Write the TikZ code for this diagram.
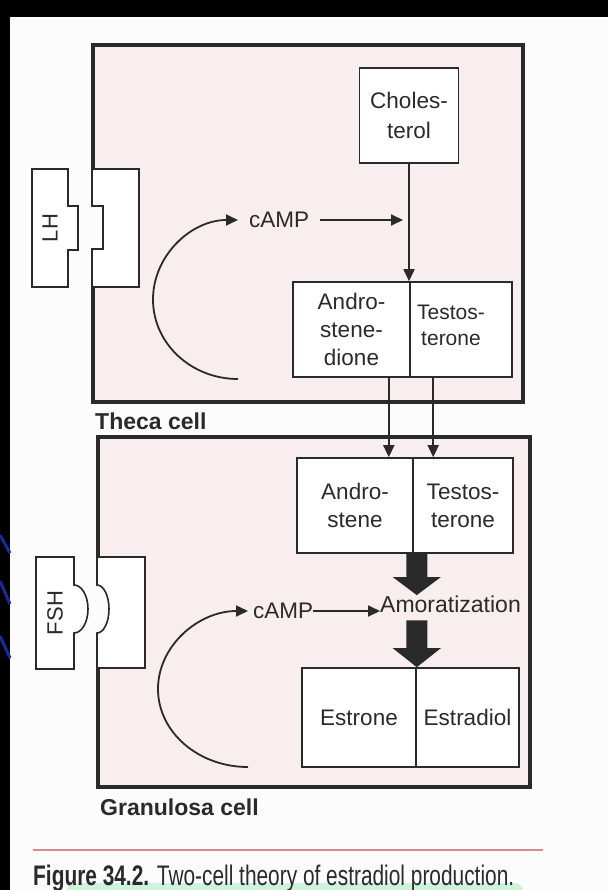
\documentclass[tikz,border=0pt]{standalone}
\usepackage{fontspec}
\usepackage{graphicx}
\setmainfont{Liberation Sans}
\usetikzlibrary{arrows.meta,calc}
\definecolor{ink}{HTML}{2A2A2A}
\definecolor{cellpink}{HTML}{F8EDEF}
\definecolor{page}{HTML}{FCFCFC}
\definecolor{capred}{HTML}{D98A95}
\definecolor{slideblue}{HTML}{1A2A9A}
\definecolor{mint}{HTML}{CDF3D8}
\newcommand{\fatarrow}[3]{% start, end, head length
  \fill[ink] ($(#1)+(-10.5,0)$) -- ($(#2)+(-10.5,-#3)$) -- ($(#2)+(-24,-#3)$) -- (#2)
    -- ($(#2)+(24,-#3)$) -- ($(#2)+(10.5,-#3)$) -- ($(#1)+(10.5,0)$) -- cycle;}
\begin{document}
\begin{tikzpicture}[x=1pt,y=-1pt,
  txt/.style={font=\fontsize{22.5}{28}\selectfont, text=ink, align=center, inner sep=0pt},
  box/.style={draw=ink, line width=1.6pt, fill=white, txt},
  arr/.style={draw=ink, line width=1.8pt, -{Triangle[length=12pt,width=11pt]}},
  cellframe/.style={draw=ink, line width=4.5pt, line join=miter},
  lab/.style={font=\bfseries\fontsize{23}{27}\selectfont, text=ink, inner sep=0pt, anchor=base west},
  shapeline/.style={draw=ink, line width=1.6pt, fill=white, line join=miter},
]
\useasboundingbox (0,0) rectangle (608,890);
\clip (0,0) rectangle (608,890);
% background
\fill[black] (0,0) rectangle (608,890);
\fill[page] (10,17) rectangle (608,890);
\draw[slideblue, line width=3pt] (0,535) -- (10,553) (0,581) -- (10,604) (0,636) -- (10,658);
\fill[mint, rounded corners=8pt] (67,883) rectangle (523,900);

% ---------- Theca cell ----------
\fill[cellpink] (93,45) rectangle (523,402);
\draw[cellframe] (93,169) -- (93,45) -- (523,45) -- (523,402) -- (93,402) -- (93,287);
\fill[page] (91,206) rectangle (103,249);
\draw[shapeline] (92,169) -- (139,169) -- (139,287) -- (92,287) -- (92,249) -- (103,249) -- (103,206) -- (92,206) -- cycle;
\draw[shapeline] (32,169) -- (68,169) -- (68,206) -- (78,206) -- (78,250) -- (68,250) -- (68,287) -- (32,287) -- cycle;
\node[txt, rotate=90, font=\fontsize{22}{22}\selectfont] (lh) at (50,228) {LH};

\node[box, minimum width=99pt, minimum height=95pt, font=\fontsize{22.5}{30}\selectfont] (chol) at (409,115.5) {Choles-\\terol};
\node[box, minimum width=117pt, minimum height=95pt] (tA) at (351.5,329.5) {Andro-\\stene-\\dione};
\node[box, minimum width=102pt, minimum height=95pt] (tT) at (461,329.5) {};
\node[txt, font=\fontsize{21}{26}\selectfont] (tTt) at (451,325) {Testos-\\terone};

\node[txt, anchor=west] (camp1) at (249,220) {cAMP};
\draw[arr] ([shift={(-11,159)}]camp1.west) arc[start angle=90, end angle=270, x radius=85, y radius=79.5];
\draw[arr] ([xshift=11pt]camp1.east) -- ([xshift=-6pt]camp1.east -| chol.south);
\draw[arr] (chol.south) -- (chol.south |- tA.north);

\node[lab] (theca) at (95,429) {Theca cell};

% ---------- Granulosa cell ----------
\fill[cellpink] (98,437) rectangle (530,787);
\draw[cellframe] (98,557) -- (98,437) -- (530,437) -- (530,787) -- (98,787) -- (98,668);
\fill[page] (95,585) -- (97,585) arc[start angle=-90, end angle=90, x radius=12, y radius=24] -- (95,633) -- cycle;
\draw[shapeline] (97,557) -- (145,557) -- (145,668) -- (97,668) -- (97,633) arc[start angle=90, end angle=-90, x radius=12, y radius=24] -- cycle;
\draw[shapeline] (36,557) -- (74,557) -- (74,585) arc[start angle=-90, end angle=90, x radius=14, y radius=24] -- (74,669) -- (36,669) -- cycle;
\node[txt, rotate=90, font=\fontsize{22}{22}\selectfont] (fsh) at (55,613) {FSH};

\node[box, minimum width=116pt, minimum height=95pt] (bA) at (355,505.5) {Andro-\\stene};
\node[box, minimum width=100pt, minimum height=95pt] (bT) at (463,505.5) {Testos-\\terone};
\node[box, minimum width=114pt, minimum height=99pt] (eL) at (359,717.5) {Estrone};
\node[box, minimum width=103pt, minimum height=99pt] (eR) at (467.5,717.5) {Estradiol};

\draw[arr] ([xshift=-22pt]tA.south east) -- ([xshift=-22pt]tA.south east |- bA.north);
\draw[arr] ([xshift=24pt]tT.south west) -- ([xshift=24pt]tT.south west |- bT.north);

\node[txt, anchor=west] (camp2) at (253,611) {cAMP};
\node[txt, anchor=base west, font=\fontsize{23}{28}\selectfont] (amor) at (380,612) {Amoratization};
\draw[arr] ([shift={(-5,156)}]camp2.west) arc[start angle=90, end angle=270, x radius=90, y radius=78];
\draw[arr] (camp2.east) -- (camp2.east -| amor.west);

\coordinate (f1s) at ([xshift=3pt]bA.south east);
\coordinate (f1e) at (f1s |- amor.north);
\fatarrow{f1s}{f1e}{18}
\coordinate (f2s) at ([yshift=-8pt]amor.south -| eL.north east);
\coordinate (f2e) at (eL.north east);
\fatarrow{f2s}{f2e}{19}

\node[lab] (gran) at (100,815) {Granulosa cell};

% ---------- caption ----------
\coordinate (rl) at (33,850);
\coordinate (rr) at (543,850);
\draw[capred, line width=1.5pt] (rl) -- (rr);
\node[anchor=base west, inner sep=0pt, text=ink] (cap) at (33,885)
  {\resizebox{481pt}{20.5pt}{\textbf{Figure 34.2.} Two-cell theory of estradiol production.}};
\end{tikzpicture}
\end{document}
